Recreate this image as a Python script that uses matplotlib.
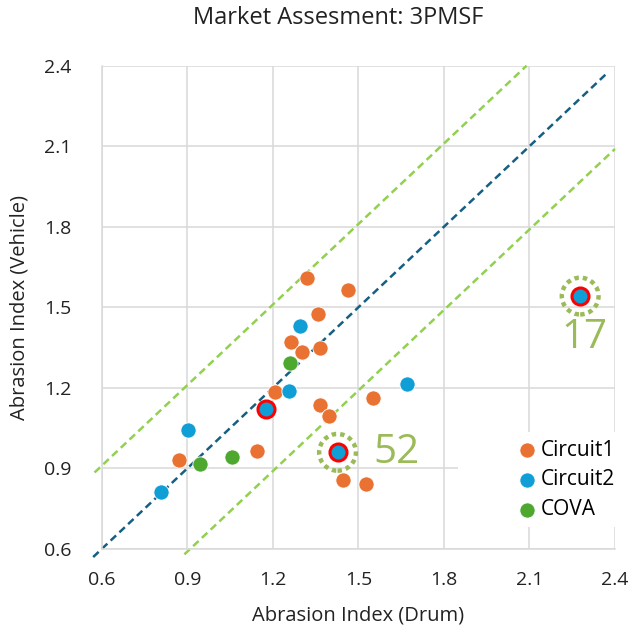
import matplotlib
matplotlib.use("Agg")
import matplotlib.pyplot as plt
from matplotlib.patches import Rectangle
import numpy as np

plt.rcParams['font.family'] = ['Open Sans', 'DejaVu Sans']

# Data
c1_x = [1.320, 1.464, 1.358, 1.265, 1.302, 1.367, 1.209, 1.553, 1.367, 1.396, 1.145, 0.872, 1.446, 1.528]
c1_y = [1.610, 1.566, 1.476, 1.370, 1.333, 1.349, 1.184, 1.162, 1.138, 1.097, 0.966, 0.930, 0.858, 0.843]
c2_x = [1.297, 1.256, 1.671, 1.177, 0.903, 0.808, 1.427, 2.278]
c2_y = [1.432, 1.187, 1.215, 1.122, 1.045, 0.811, 0.960, 1.542]
cova_x = [1.259, 0.944, 1.057]
cova_y = [1.293, 0.918, 0.941]

# reference lines: y = x + offset over an x range
ref_offsets = [0.0, 0.31, -0.31]
ref_xranges = [(0.57, 2.37), (0.575, 2.09), (0.89, 2.40)]
ref_colors = ['#156082', '#92D050', '#92D050']

# highlighted points (Circuit2 indices) and their labels
red_idx = [3, 6, 7]
flag_idx = [6, 7]
flag_labels = ['52', '17']
flag_label_x = [1.635, 2.292]
flag_label_y = [0.922, 1.350]

ticks = [0.6, 0.9, 1.2, 1.5, 1.8, 2.1, 2.4]

fig = plt.figure(figsize=(6.31, 6.30), dpi=100)
ax = fig.add_axes([0.1612, 0.1286, 0.8134, 0.7671])

ax.set_xlim(0.6, 2.4)
ax.set_ylim(0.6, 2.4)
ax.set_xticks(ticks)
ax.set_yticks(ticks)
ax.set_xticklabels([f"{t:.1f}" for t in ticks])
ax.set_yticklabels([f"{t:.1f}" for t in ticks])
ax.grid(True, color='#D9D9D9', linewidth=1.1, zorder=0)
ax.set_axisbelow(True)
for s in ax.spines.values():
    s.set_color('#D9D9D9')
    s.set_linewidth(1.1)
ax.spines['top'].set_visible(False)
ax.spines['right'].set_visible(False)
ax.tick_params(length=0, labelsize=14, colors='#222222')
ax.tick_params(axis='x', pad=16)
ax.tick_params(axis='y', pad=22)

for off, (x0, x1), col in zip(ref_offsets, ref_xranges, ref_colors):
    xs = np.array([x0, x1])
    ax.plot(xs, xs + off, linestyle=(0, (3, 1.8)), color=col, linewidth=1.8,
            clip_on=False, zorder=2)

ms = 120
ax.scatter(c1_x, c1_y, s=ms, color='#E97132', edgecolors='white', linewidths=0.6, zorder=3, label='Circuit1')
ax.scatter(c2_x, c2_y, s=ms, color='#0F9ED5', edgecolors='white', linewidths=0.6, zorder=3, label='Circuit2')
ax.scatter(cova_x, cova_y, s=ms, color='#4EA72E', edgecolors='white', linewidths=0.6, zorder=3, label='COVA')

ax.scatter([c2_x[i] for i in red_idx], [c2_y[i] for i in red_idx], s=150,
           facecolors='#0F9ED5', edgecolors='#FF0000', linewidths=2.2, zorder=4)
ax.scatter([c2_x[i] for i in flag_idx], [c2_y[i] for i in flag_idx], s=700,
           facecolors='none', edgecolors='#9BBB59', linewidths=3.2,
           linestyle=(0, (1.0, 0.9)), zorder=4)
for lx, ly, t in zip(flag_label_x, flag_label_y, flag_labels):
    ax.text(lx, ly, t, fontsize=29, color='#9BBB59', ha='center', va='baseline', zorder=5)

# white legend box covering gridlines
ax.add_patch(Rectangle((0.694, 0.0455), 0.306, 0.197, transform=ax.transAxes,
                       facecolor='white', edgecolor='none', zorder=5))
leg = ax.legend(loc='center left', bbox_to_anchor=(0.805, 0.143), frameon=False,
                fontsize=15, handletextpad=0.05, labelspacing=0.42,
                borderpad=0, borderaxespad=0, handlelength=1.2, markerscale=1.0)
leg.set_zorder(6)

ax.set_xlabel('Abrasion Index (Drum)', fontsize=14.5, labelpad=12, color='#222222')
ax.set_ylabel('Abrasion Index (Vehicle)', fontsize=14.5, labelpad=10, color='#222222')
fig.text(0.5365, 0.971, 'Market Assesment: 3PMSF', fontsize=17, ha='center', va='center', color='#222222')

fig.savefig('out.png', dpi=100)
